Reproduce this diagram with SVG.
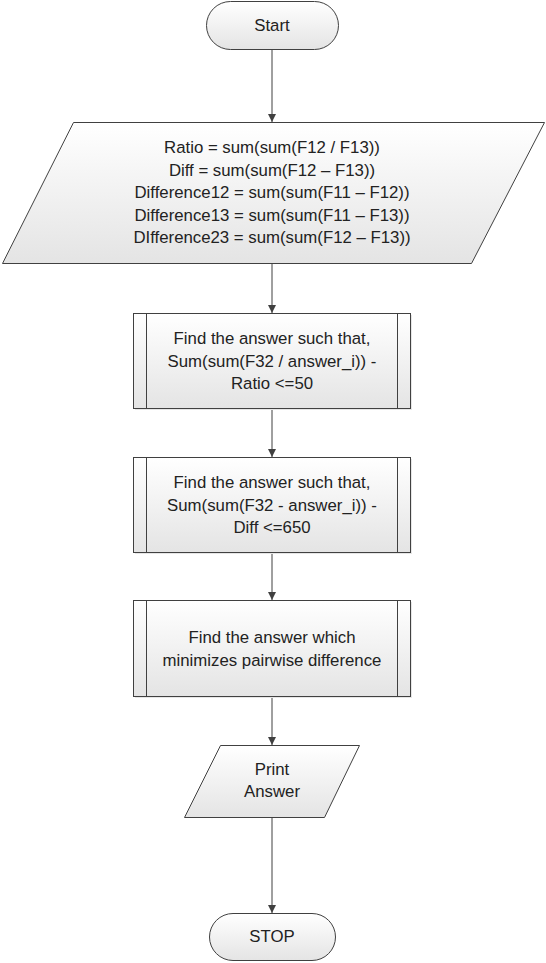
<svg xmlns="http://www.w3.org/2000/svg" width="546" height="963" viewBox="0 0 546 963">
<defs>
<linearGradient id="g" x1="0" y1="0" x2="0" y2="1">
<stop offset="0" stop-color="#ffffff"/>
<stop offset="1" stop-color="#e4e4e4"/>
</linearGradient>
<marker id="ar" viewBox="0 0 10 10" refX="10" refY="5" markerWidth="8" markerHeight="8" markerUnits="userSpaceOnUse" orient="auto">
<path d="M0,0 L10,5 L0,10 z" fill="#404040"/>
</marker>
</defs>
<style>
.s{fill:url(#g);stroke:#404040;stroke-width:1}
.sh{fill:#e6e6e6;stroke:none}
.l{fill:none;stroke:#404040;stroke-width:1}
.c{stroke:#404040;stroke-width:1;fill:none;marker-end:url(#ar)}
text{font-family:"Liberation Sans",Arial,sans-serif;font-size:16.8px;fill:#222222;text-anchor:middle}
</style>
<rect width="546" height="963" fill="#ffffff"/>
<g id="connectors">
<line class="c" x1="272" y1="50" x2="272" y2="122"/>
<line class="c" x1="272" y1="264" x2="272" y2="313"/>
<line class="c" x1="272" y1="408" x2="272" y2="457"/>
<line class="c" x1="272" y1="552" x2="272" y2="600"/>
<line class="c" x1="272" y1="697" x2="272" y2="745"/>
<line class="c" x1="272" y1="817" x2="272" y2="913"/>
</g>
<g id="start">
<rect class="s" x="206.5" y="1.5" width="132" height="48" rx="24" ry="24"/>
<text x="272" y="31">Start</text>
</g>
<g id="input">
<polygon class="s" points="73.5,122.5 544.5,122.5 471.5,263.5 2.5,263.5"/>
<text x="272" y="153">Ratio = sum(sum(F12 / F13))</text>
<text x="272" y="176">Diff = sum(sum(F12 – F13))</text>
<text x="272" y="198">Difference12 = sum(sum(F11 – F12))</text>
<text x="272" y="221">Difference13 = sum(sum(F11 – F13))</text>
<text x="272" y="243">DIfference23 = sum(sum(F12 – F13))</text>
</g>
<g id="proc1">
<rect class="sh" x="135" y="315" width="277" height="95"/>
<rect class="s" x="133.5" y="313.5" width="277" height="95"/>
<line class="l" x1="146.5" y1="313.5" x2="146.5" y2="408.5"/>
<line class="l" x1="397.5" y1="313.5" x2="397.5" y2="408.5"/>
<text x="272" y="344">Find the answer such that,</text>
<text x="272" y="367">Sum(sum(F32 / answer_i)) -</text>
<text x="272" y="389">Ratio &lt;=50</text>
</g>
<g id="proc2">
<rect class="sh" x="135" y="459" width="277" height="95"/>
<rect class="s" x="133.5" y="457.5" width="277" height="95"/>
<line class="l" x1="146.5" y1="457.5" x2="146.5" y2="552.5"/>
<line class="l" x1="397.5" y1="457.5" x2="397.5" y2="552.5"/>
<text x="272" y="488">Find the answer such that,</text>
<text x="272" y="511">Sum(sum(F32 - answer_i)) -</text>
<text x="272" y="533">Diff &lt;=650</text>
</g>
<g id="proc3">
<rect class="sh" x="135" y="602" width="277" height="96"/>
<rect class="s" x="133.5" y="600.5" width="277" height="96"/>
<line class="l" x1="146.5" y1="600.5" x2="146.5" y2="696.5"/>
<line class="l" x1="397.5" y1="600.5" x2="397.5" y2="696.5"/>
<text x="272" y="643">Find the answer which</text>
<text x="272" y="666">minimizes pairwise difference</text>
</g>
<g id="print">
<polygon class="s" points="220.5,745.5 359.5,745.5 324.5,817.5 184.5,817.5"/>
<text x="272" y="775">Print</text>
<text x="272" y="797">Answer</text>
</g>
<g id="stop">
<rect class="s" x="209.5" y="913.5" width="126" height="47" rx="23.5" ry="23.5"/>
<text x="272" y="942">STOP</text>
</g>
</svg>
